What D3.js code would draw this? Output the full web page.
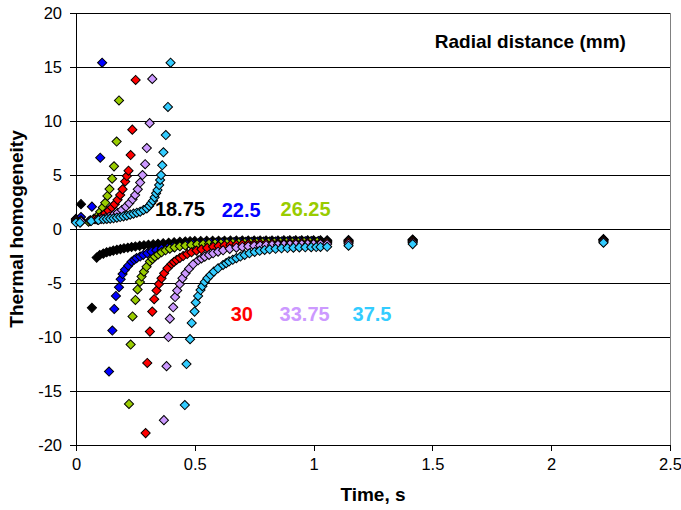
<!DOCTYPE html>
<html>
<head>
<meta charset="utf-8">
<script src="https://cdn.jsdelivr.net/npm/d3@7"></script>
<style>
  body { margin: 0; background: #fff; }
  text { font-family: "Liberation Sans", Arial, sans-serif; }
</style>
</head>
<body>
<div id="chart"></div>
<script>
// radial distance of each series (mm)
var radii = ['18.75', '22.5', '26.25', '30', '33.75', '37.5'];

var time1875 = [0, 0.021, 0.067, 0.087, 0.1, 0.115, 0.129, 0.143, 0.157, 0.172, 0.187, 0.202, 0.218, 0.234, 0.25, 0.268, 0.286, 0.305, 0.325, 0.345, 0.367, 0.39, 0.413, 0.437, 0.46, 0.48, 0.5, 0.525, 0.55, 0.575, 0.6, 0.625, 0.65, 0.675, 0.7, 0.725, 0.75, 0.775, 0.8, 0.825, 0.85, 0.875, 0.9, 0.925, 0.95, 0.975, 1.0, 1.029, 1.057, 1.147, 1.417, 2.22];
var homog1875 = [0.9, 2.3, -7.3, -2.65, -2.4, -2.28, -2.16, -2.08, -2.0, -1.93, -1.86, -1.79, -1.73, -1.67, -1.62, -1.56, -1.51, -1.46, -1.41, -1.37, -1.33, -1.28, -1.23, -1.18, -1.15, -1.13, -1.12, -1.11, -1.1, -1.1, -1.09, -1.09, -1.08, -1.08, -1.07, -1.07, -1.07, -1.06, -1.06, -1.06, -1.06, -1.05, -1.05, -1.05, -1.05, -1.05, -1.05, -1.04, -1.04, -1.02, -0.97, -0.94];

var time225 = [0, 0.021, 0.067, 0.102, 0.11, 0.139, 0.153, 0.161, 0.168, 0.181, 0.188, 0.196, 0.206, 0.22, 0.234, 0.245, 0.255, 0.27, 0.283, 0.3, 0.318, 0.338, 0.36, 0.385, 0.409, 0.437, 0.465, 0.49, 0.515, 0.54, 0.565, 0.59, 0.615, 0.64, 0.665, 0.69, 0.715, 0.74, 0.765, 0.79, 0.815, 0.84, 0.865, 0.89, 0.915, 0.94, 0.965, 0.99, 1.02, 1.057, 1.147, 1.417, 2.22];
var homog225 = [0.95, 1.1, 2.07, 6.6, 15.4, -13.2, -9.4, -7.4, -6.2, -5.4, -4.66, -4.17, -3.77, -3.4, -3.03, -2.85, -2.7, -2.55, -2.4, -2.25, -2.1, -1.97, -1.85, -1.74, -1.64, -1.53, -1.44, -1.38, -1.34, -1.3, -1.28, -1.26, -1.24, -1.23, -1.21, -1.2, -1.19, -1.18, -1.17, -1.16, -1.16, -1.15, -1.15, -1.14, -1.14, -1.13, -1.13, -1.12, -1.12, -1.11, -1.08, -1.03, -0.98];

var time2625 = [0, 0.021, 0.053, 0.075, 0.091, 0.102, 0.113, 0.123, 0.132, 0.141, 0.152, 0.16, 0.171, 0.181, 0.223, 0.23, 0.238, 0.25, 0.259, 0.269, 0.276, 0.286, 0.297, 0.311, 0.322, 0.332, 0.346, 0.36, 0.377, 0.395, 0.415, 0.437, 0.46, 0.485, 0.51, 0.535, 0.56, 0.585, 0.61, 0.635, 0.66, 0.685, 0.71, 0.735, 0.76, 0.785, 0.81, 0.835, 0.86, 0.885, 0.91, 0.935, 0.96, 0.985, 1.015, 1.057, 1.147, 1.417, 2.22];
var homog2625 = [0.85, 0.8, 0.68, 0.95, 1.23, 1.6, 2.0, 2.43, 3.06, 3.7, 4.66, 5.8, 8.1, 11.9, -16.2, -10.7, -8.1, -6.57, -5.6, -4.9, -4.4, -3.95, -3.5, -3.0, -2.77, -2.56, -2.35, -2.16, -1.97, -1.82, -1.7, -1.6, -1.53, -1.47, -1.42, -1.39, -1.36, -1.34, -1.32, -1.3, -1.29, -1.28, -1.27, -1.26, -1.25, -1.24, -1.23, -1.23, -1.22, -1.22, -1.21, -1.21, -1.2, -1.2, -1.19, -1.19, -1.15, -1.08, -1.02];

var time30 = [0, 0.021, 0.06, 0.08, 0.095, 0.109, 0.123, 0.137, 0.151, 0.163, 0.175, 0.186, 0.196, 0.207, 0.214, 0.221, 0.23, 0.237, 0.251, 0.293, 0.3, 0.311, 0.321, 0.329, 0.339, 0.349, 0.36, 0.371, 0.385, 0.402, 0.412, 0.423, 0.437, 0.451, 0.468, 0.486, 0.507, 0.528, 0.552, 0.577, 0.6, 0.625, 0.65, 0.675, 0.7, 0.725, 0.75, 0.775, 0.8, 0.825, 0.85, 0.875, 0.9, 0.925, 0.95, 0.975, 1.0, 1.029, 1.057, 1.147, 1.417, 2.22];
var homog30 = [0.8, 0.75, 0.8, 0.9, 1.0, 1.23, 1.45, 1.7, 2.0, 2.3, 2.7, 3.15, 3.67, 4.4, 4.9, 5.4, 6.85, 9.2, 13.8, -18.9, -12.4, -9.5, -7.65, -6.5, -5.7, -5.1, -4.57, -4.1, -3.64, -3.24, -3.05, -2.87, -2.68, -2.5, -2.32, -2.16, -2.0, -1.88, -1.75, -1.65, -1.58, -1.52, -1.48, -1.45, -1.42, -1.4, -1.38, -1.36, -1.35, -1.34, -1.33, -1.32, -1.31, -1.3, -1.29, -1.29, -1.28, -1.28, -1.27, -1.22, -1.15, -1.08];

var time3375 = [0, 0.021, 0.06, 0.09, 0.106, 0.123, 0.14, 0.158, 0.176, 0.193, 0.21, 0.224, 0.238, 0.249, 0.26, 0.27, 0.28, 0.291, 0.298, 0.31, 0.321, 0.37, 0.381, 0.389, 0.395, 0.409, 0.417, 0.426, 0.437, 0.448, 0.461, 0.476, 0.493, 0.514, 0.528, 0.542, 0.56, 0.577, 0.598, 0.619, 0.647, 0.675, 0.7, 0.725, 0.75, 0.775, 0.8, 0.825, 0.85, 0.875, 0.9, 0.925, 0.95, 0.975, 1.0, 1.029, 1.057, 1.147, 1.417, 2.22];
var homog3375 = [0.7, 0.7, 0.75, 0.85, 0.92, 1.0, 1.14, 1.3, 1.5, 1.76, 2.07, 2.38, 2.75, 3.15, 3.67, 4.3, 5.0, 6.0, 7.5, 9.8, 13.9, -17.7, -12.7, -10.0, -8.3, -7.25, -6.3, -5.7, -5.1, -4.57, -4.1, -3.67, -3.27, -2.9, -2.72, -2.56, -2.4, -2.25, -2.1, -1.97, -1.84, -1.73, -1.66, -1.6, -1.56, -1.53, -1.5, -1.48, -1.46, -1.45, -1.44, -1.43, -1.42, -1.41, -1.4, -1.4, -1.39, -1.36, -1.26, -1.17];

var time375 = [0, 0.017, 0.064, 0.095, 0.116, 0.13, 0.144, 0.158, 0.172, 0.186, 0.2, 0.214, 0.228, 0.242, 0.256, 0.27, 0.284, 0.298, 0.308, 0.316, 0.324, 0.331, 0.337, 0.343, 0.35, 0.354, 0.358, 0.363, 0.368, 0.378, 0.387, 0.398, 0.458, 0.465, 0.48, 0.487, 0.499, 0.504, 0.514, 0.524, 0.532, 0.542, 0.553, 0.566, 0.58, 0.598, 0.619, 0.632, 0.644, 0.66, 0.675, 0.692, 0.71, 0.73, 0.752, 0.773, 0.794, 0.815, 0.84, 0.865, 0.89, 0.915, 0.94, 0.965, 0.99, 1.011, 1.029, 1.057, 1.147, 1.417, 2.22];
var homog375 = [0.6, 0.58, 0.74, 0.83, 0.9, 0.93, 0.96, 0.99, 1.05, 1.11, 1.17, 1.23, 1.33, 1.42, 1.51, 1.6, 1.76, 1.91, 2.13, 2.38, 2.62, 2.93, 3.3, 3.6, 4.07, 4.54, 5.0, 5.9, 7.1, 8.7, 11.3, 15.4, -16.3, -12.5, -10.2, -8.7, -7.65, -6.8, -6.2, -5.65, -5.3, -4.9, -4.57, -4.26, -3.95, -3.64, -3.33, -3.16, -3.0, -2.85, -2.7, -2.55, -2.4, -2.25, -2.12, -2.02, -1.94, -1.88, -1.83, -1.79, -1.76, -1.73, -1.71, -1.69, -1.68, -1.67, -1.66, -1.65, -1.55, -1.4, -1.27];

var times = [time1875, time225, time2625, time30, time3375, time375];
var homogs = [homog1875, homog225, homog2625, homog30, homog3375, homog375];

// where each radius label sits, in data units
var labelTime = [0.332, 0.613, 0.861, 0.651, 0.857, 1.164];
var labelHomog = [1.85, 1.8, 1.85, -7.85, -7.85, -7.9];

var xTicks = [0, 0.5, 1, 1.5, 2, 2.5];
var yTicks = [-20, -15, -10, -5, 0, 5, 10, 15, 20];

var colors = ['#000000', '#0000ff', '#99cc00', '#ff0000', '#cc99ff', '#33ccff'];

var width = 681,
    height = 510;
var margin = {top: 13, right: 11, bottom: 65, left: 76};
var plotW = width - margin.left - margin.right,
    plotH = height - margin.top - margin.bottom;

var svg = d3.select('#chart')
    .append('svg')
    .attr('width', width)
    .attr('height', height);

var g = svg.append('g')
    .attr('transform', 'translate(' + margin.left + ',' + margin.top + ')');

var x = d3.scaleLinear().domain([0, 2.5]).range([0, plotW]);
var y = d3.scaleLinear().domain([-20, 20]).range([plotH, 0]);

// grid
g.selectAll('line.grid')
    .data(yTicks)
    .enter()
    .append('line')
    .attr('class', 'grid')
    .attr('x1', 0)
    .attr('x2', plotW)
    .attr('y1', d => y(d))
    .attr('y2', d => y(d))
    .attr('stroke', '#000')
    .attr('shape-rendering', 'crispEdges');

g.append('line')
    .attr('x1', plotW).attr('x2', plotW)
    .attr('y1', 0).attr('y2', plotH)
    .attr('stroke', '#808080')
    .attr('shape-rendering', 'crispEdges');

var xAxis = g.append('g')
    .attr('transform', 'translate(0,' + plotH + ')')
    .call(d3.axisBottom(x).tickValues(xTicks).tickFormat(d => String(d)).tickSize(6).tickPadding(7));

var yAxis = g.append('g')
    .call(d3.axisLeft(y).tickValues(yTicks).tickFormat(d => String(d)).tickSize(6).tickPadding(8));

[xAxis, yAxis].forEach(a => {
    a.select('.domain').attr('stroke', '#000').attr('shape-rendering', 'crispEdges');
    a.selectAll('.tick line').attr('stroke', '#000').attr('shape-rendering', 'crispEdges');
    a.selectAll('text')
        .attr('fill', '#000')
        .style('font-family', '"Liberation Sans", Arial, sans-serif')
        .style('font-size', '16.5px');
});

// points
var diamond = d3.symbol().type(d3.symbolSquare).size(42);

var series = radii.map((r, i) => ({
    radius: r,
    color: colors[i],
    points: d3.zip(times[i], homogs[i])
}));

series.forEach(s => {
    g.append('g')
        .selectAll('path')
        .data(s.points)
        .enter()
        .append('path')
        .attr('d', diamond)
        .attr('transform', d => 'translate(' + x(d[0]) + ',' + y(d[1]) + ') rotate(45)')
        .attr('fill', s.color)
        .attr('stroke', '#000')
        .attr('stroke-width', 1);
});

// radius labels
g.selectAll('text.radius')
    .data(series)
    .enter()
    .append('text')
    .attr('class', 'radius')
    .attr('x', (d, i) => x(labelTime[i]))
    .attr('y', (d, i) => y(labelHomog[i]))
    .attr('dy', '0.35em')
    .attr('fill', d => d.color)
    .style('font-size', '20px')
    .style('font-weight', 'bold')
    .text(d => d.radius);

g.append('text')
    .attr('x', x(1.51))
    .attr('y', y(17.4))
    .attr('dy', '0.35em')
    .style('font-size', '19px')
    .style('font-weight', 'bold')
    .text('Radial distance (mm)');

svg.append('text')
    .attr('x', margin.left + plotW / 2)
    .attr('y', 501)
    .attr('text-anchor', 'middle')
    .style('font-size', '19px')
    .style('font-weight', 'bold')
    .text('Time, s');

svg.append('text')
    .attr('transform', 'translate(23,' + (margin.top + plotH / 2) + ') rotate(-90)')
    .attr('text-anchor', 'middle')
    .style('font-size', '19px')
    .style('font-weight', 'bold')
    .text('Thermal homogeneity');
</script>
</body>
</html>
